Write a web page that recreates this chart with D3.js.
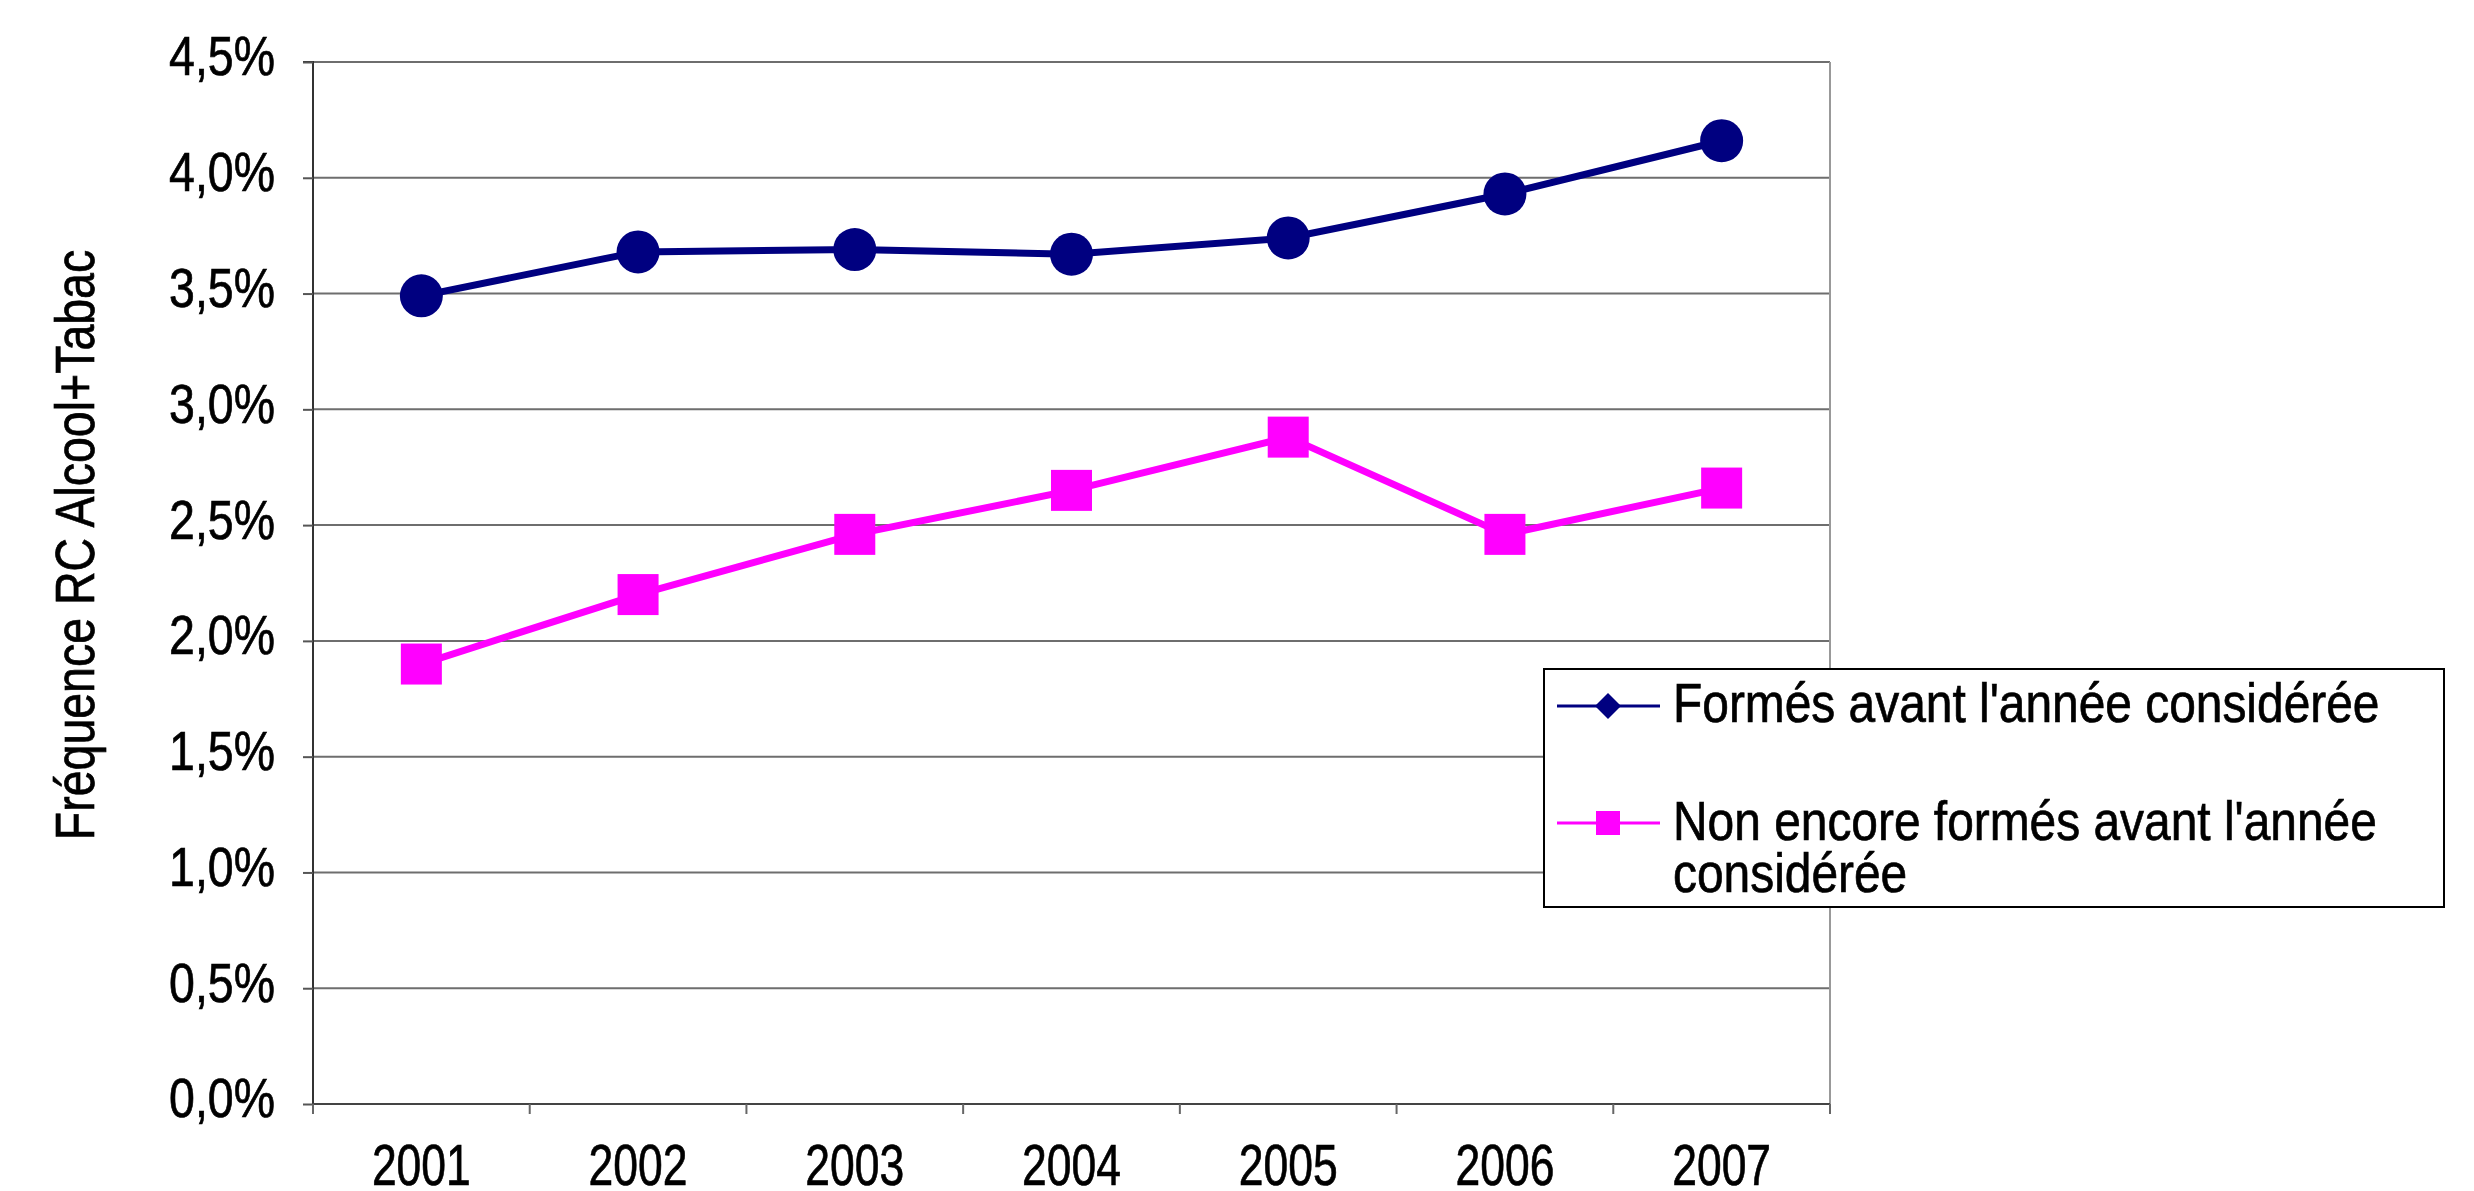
<!DOCTYPE html>
<html>
<head>
<meta charset="utf-8">
<script src="https://cdn.jsdelivr.net/npm/d3@7"></script>
<style>
  body { margin: 0; background: #fff; }
  text { font-family: "Liberation Sans", Arial, sans-serif; fill: #000; stroke: #000; stroke-width: 0.7px; }
</style>
</head>
<body>
<svg id="chart" width="2474" height="1191"></svg>
<script>
var years = ["2001", "2002", "2003", "2004", "2005", "2006", "2007"];
var formes = [3.49, 3.68, 3.69, 3.67, 3.74, 3.93, 4.16];
var nonFormes = [1.90, 2.20, 2.46, 2.65, 2.88, 2.46, 2.66];
var yTicks = [0, 0.5, 1, 1.5, 2, 2.5, 3, 3.5, 4, 4.5];
var seriesNames = ["Formés avant l'année considérée", "Non encore formés avant l'année", "considérée"];
var yTitle = "Fréquence RC Alcool+Tabac";

var svg = d3.select("#chart"),
	margin = {top: 62, left: 313, bottom: 87, right: 644},
	width = +svg.attr("width") - margin.left - margin.right,
	height = +svg.attr("height") - margin.top - margin.bottom;

svg.append("rect").attr("width", 2474).attr("height", 1191).attr("fill", "#fff");

var x = d3.scaleBand()
	.domain(years)
	.range([margin.left, margin.left + width])
	.paddingInner(0)
	.paddingOuter(0);

var y = d3.scaleLinear()
	.domain([0, 4.5])
	.range([margin.top + height, margin.top]);

var cx = d => x(d) + x.bandwidth() / 2;

// gridlines
svg.append("g")
	.selectAll("line")
	.data(yTicks)
	.enter().append("line")
	.attr("x1", margin.left)
	.attr("x2", margin.left + width)
	.attr("y1", d => y(d))
	.attr("y2", d => y(d))
	.attr("stroke", "#6e6e6e")
	.attr("stroke-width", 2);

// right border
svg.append("line")
	.attr("x1", margin.left + width).attr("x2", margin.left + width)
	.attr("y1", y(4.5)).attr("y2", y(0) + 10)
	.attr("stroke", "#999").attr("stroke-width", 2);

// y axis
var yAxis = svg.append("g")
	.attr("transform", `translate(${margin.left},0)`)
	.call(d3.axisLeft(y).tickValues(yTicks).tickSize(10).tickPadding(28)
		.tickFormat(d => d.toFixed(1).replace(".", ",") + "%"));
yAxis.select(".domain").attr("stroke", "#333").attr("stroke-width", 2).attr("d", `M-10,${y(4.5)}H0V${y(0) + 10}`);
yAxis.selectAll(".tick line").attr("stroke", "#555").attr("stroke-width", 2);
yAxis.selectAll(".tick text").attr("font-size", 56).attr("dy", "0.23em").attr("class", "ytick");

// x axis baseline + ticks at band edges
var edges = years.map(d => x(d)).concat([x.range()[1]]);
svg.append("line")
	.attr("x1", margin.left).attr("x2", margin.left + width)
	.attr("y1", y(0)).attr("y2", y(0))
	.attr("stroke", "#444").attr("stroke-width", 2);
svg.append("g")
	.selectAll("line")
	.data(edges)
	.enter().append("line")
	.attr("x1", d => d).attr("x2", d => d)
	.attr("y1", y(0)).attr("y2", y(0) + 10)
	.attr("stroke", "#666").attr("stroke-width", 2);

svg.append("g")
	.selectAll("text")
	.data(years)
	.enter().append("text")
	.attr("class", "xtick")
	.attr("x", d => cx(d))
	.attr("y", y(0) + 81)
	.attr("text-anchor", "middle")
	.attr("font-size", 57)
	.text(d => d);

// y title
svg.append("text")
	.attr("class", "ytitle")
	.attr("transform", "translate(94,545) rotate(-90)")
	.attr("text-anchor", "middle")
	.attr("font-size", 56)
	.text(yTitle);

// lines
var line = d3.line()
	.x((d, i) => cx(years[i]))
	.y(d => y(d));

svg.append("path")
	.datum(nonFormes)
	.attr("d", line)
	.attr("fill", "none")
	.attr("stroke", "#ff00ff")
	.attr("stroke-width", 7);

svg.append("g")
	.selectAll("rect")
	.data(nonFormes)
	.enter().append("rect")
	.attr("x", (d, i) => cx(years[i]) - 20.5)
	.attr("y", d => y(d) - 20.5)
	.attr("width", 41)
	.attr("height", 41)
	.attr("fill", "#ff00ff");

svg.append("path")
	.datum(formes)
	.attr("d", line)
	.attr("fill", "none")
	.attr("stroke", "#000080")
	.attr("stroke-width", 7);

svg.append("g")
	.selectAll("circle")
	.data(formes)
	.enter().append("circle")
	.attr("cx", (d, i) => cx(years[i]))
	.attr("cy", d => y(d))
	.attr("r", 21.5)
	.attr("fill", "#000080");

// legend
var lg = svg.append("g").attr("transform", "translate(1544,669)");
lg.append("rect")
	.attr("width", 900).attr("height", 238)
	.attr("fill", "#fff").attr("stroke", "#000").attr("stroke-width", 2);

lg.append("line").attr("x1", 13).attr("x2", 116).attr("y1", 37).attr("y2", 37)
	.attr("stroke", "#000080").attr("stroke-width", 3);
lg.append("path").attr("d", "M64,24L77,37L64,50L51,37Z").attr("fill", "#000080");
lg.append("text").attr("class", "leg").attr("x", 129).attr("y", 53).attr("font-size", 56).text(seriesNames[0]);

lg.append("line").attr("x1", 13).attr("x2", 116).attr("y1", 154).attr("y2", 154)
	.attr("stroke", "#ff00ff").attr("stroke-width", 3);
lg.append("rect").attr("x", 52).attr("y", 142).attr("width", 24).attr("height", 24).attr("fill", "#ff00ff");
lg.append("text").attr("class", "leg").attr("x", 129).attr("y", 171).attr("font-size", 56).text(seriesNames[1]);
lg.append("text").attr("class", "leg").attr("x", 129).attr("y", 223).attr("font-size", 56).text(seriesNames[2]);

// narrow the glyphs like the condensed font of the original
function condense(sel, k) {
	sel.each(function() {
		var w = this.getComputedTextLength();
		d3.select(this).attr("textLength", w * k).attr("lengthAdjust", "spacingAndGlyphs");
	});
}
condense(svg.selectAll("text.ytick"), 0.83);
condense(svg.selectAll("text.xtick"), 0.78);
condense(svg.selectAll("text.ytitle"), 0.83);
condense(svg.selectAll("text.leg"), 0.855);
</script>
</body>
</html>
